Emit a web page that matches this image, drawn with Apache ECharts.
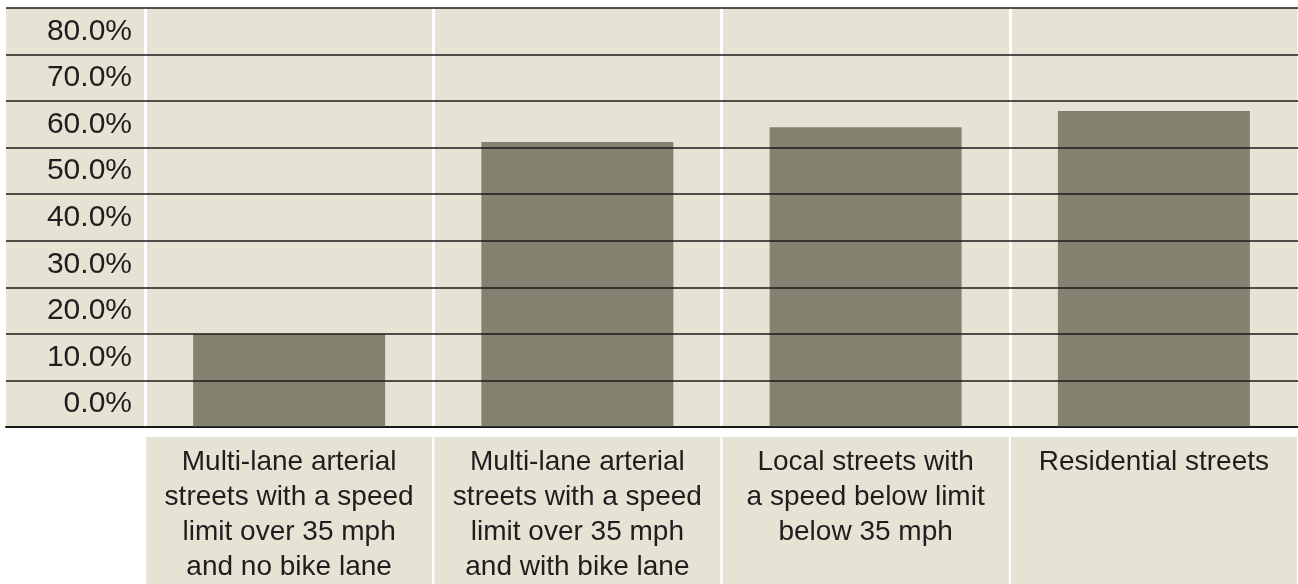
<!DOCTYPE html>
<html>
<head>
<meta charset="utf-8">
<title>Street types</title>
<script src="https://cdn.jsdelivr.net/npm/echarts@6/dist/echarts.min.js"></script>
<style>
	html, body { margin: 0; padding: 0; background: #fff; }
	#chart { width: 1298px; height: 584px; }
</style>
</head>
<body>
<div id="chart"></div>
<script>
// categories (label text keeps the original line breaks)
const categories = [
	'Multi-lane arterial\nstreets with a speed\nlimit over 35 mph\nand no bike lane',
	'Multi-lane arterial\nstreets with a speed\nlimit over 35 mph\nand with bike lane',
	'Local streets with\na speed below limit\nbelow 35 mph',
	'Residential streets'
];
// bar values, in percent
const shares = [20.0, 61.2, 64.4, 67.9];
// y ticks and the text printed for each (top tick has no label)
const yTicks = [0, 10, 20, 30, 40, 50, 60, 70, 80, 90];
const yTickLabels = ['0.0%', '10.0%', '20.0%', '30.0%', '40.0%', '50.0%', '60.0%', '70.0%', '80.0%', ''];

const beige = '#e6e3d4';
const barColor = '#838270';
const lineColor = '#1a1a1a';
const textColor = '#1e1e1e';
const font = '"Liberation Sans", Arial, Helvetica, sans-serif';

let chart = echarts.init(document.getElementById('chart'), null, { renderer: 'canvas' });

chart.setOption({
	animation: false,
	grid: [
		// label column on the left
		{ left: 6, width: 139, top: 8, bottom: 157, show: true, backgroundColor: beige, borderWidth: 0, outerBoundsMode: 'none', containLabel: false },
		// plot area
		{ left: 145, right: 0, top: 8, bottom: 157, show: true, backgroundColor: beige, borderWidth: 0, outerBoundsMode: 'none', containLabel: false }
	],
	xAxis: [
		{
			gridIndex: 0, type: 'value', min: 0, max: 1,
			axisLine: { show: true, lineStyle: { color: lineColor, width: 2 } },
			axisTick: { show: false }, axisLabel: { show: false }, splitLine: { show: false }
		},
		{
			gridIndex: 1, type: 'category', data: categories, z: 1,
			axisLine: { show: true, lineStyle: { color: lineColor, width: 2 } },
			axisTick: { show: false },
			splitLine: { show: true, lineStyle: { color: '#ffffff', width: 3 } },
			axisLabel: {
				interval: 0,
				margin: 10,
				color: textColor,
				fontFamily: font,
				fontSize: 28,
				lineHeight: 35,
				align: 'center',
				verticalAlign: 'top',
				width: 286,
				height: 150,
				padding: [8, 0, 0, 0],
				backgroundColor: beige
			}
		}
	],
	yAxis: [
		{
			gridIndex: 0, type: 'value', min: 0, max: 90, interval: 10, z: 3,
			axisLine: { show: false }, axisTick: { show: false }, axisLabel: { show: false },
			splitLine: { show: true, lineStyle: { color: lineColor, width: 1.5 } }
		},
		{
			gridIndex: 1, type: 'value', min: 0, max: 90, interval: 10, z: 3,
			axisLine: { show: false }, axisTick: { show: false },
			splitLine: { show: true, lineStyle: { color: lineColor, width: 1.5 } },
			axisLabel: {
				margin: 13,
				color: textColor,
				fontFamily: font,
				fontSize: 30,
				// a 46px line box sitting on the tick puts the text in the band above its line
				lineHeight: 46,
				verticalAlign: 'bottom',
				formatter: function (v) {
					let i = yTicks.indexOf(v);
					return i < 0 ? '' : yTickLabels[i];
				}
			}
		}
	],
	series: [{
		type: 'bar',
		xAxisIndex: 1,
		yAxisIndex: 1,
		data: shares,
		barWidth: 192,
		itemStyle: { color: barColor },
		z: 2
	}]
});
</script>
</body>
</html>
